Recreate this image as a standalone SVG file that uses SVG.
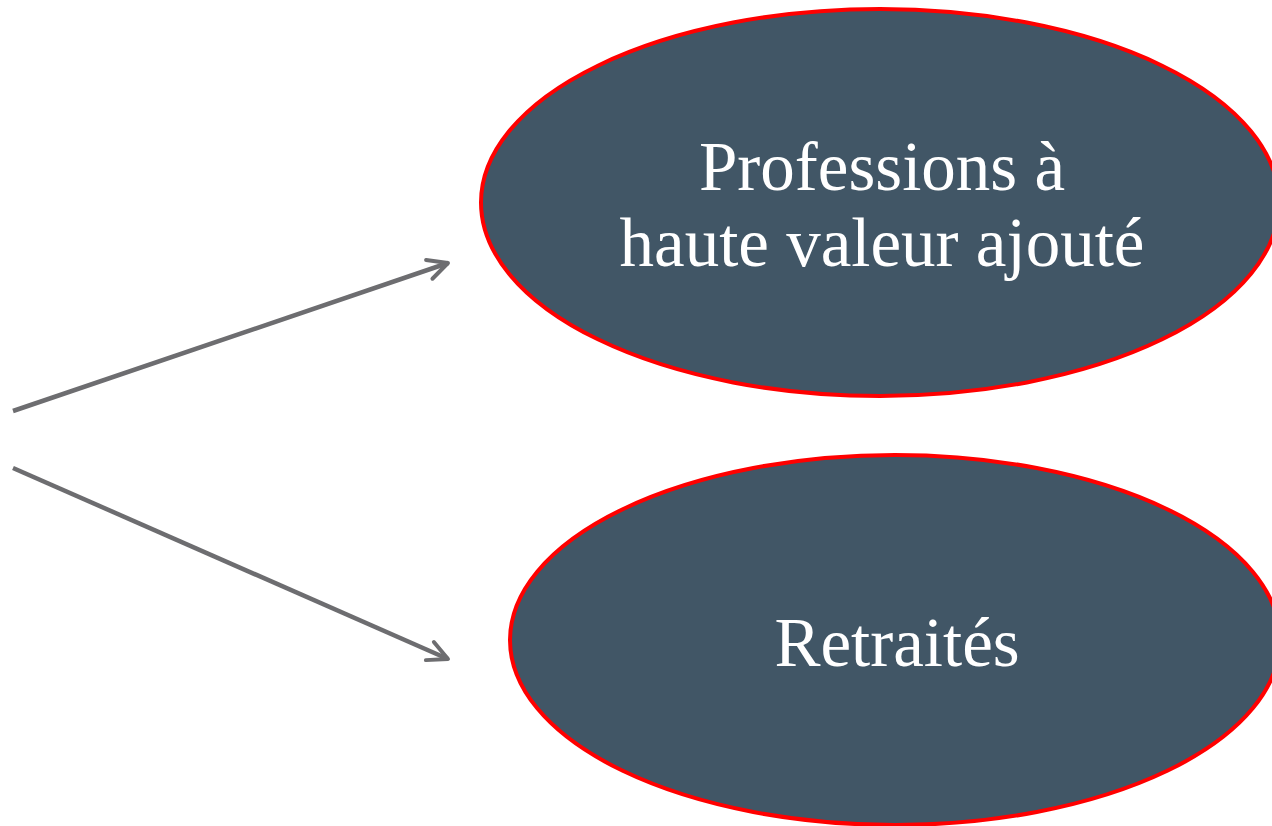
<svg xmlns="http://www.w3.org/2000/svg" width="1272" height="826" viewBox="0 0 1272 826">
<style>
.node ellipse{fill:#415666;stroke:#ff0000;stroke-width:4}
.node text{fill:#ffffff;font-family:"Liberation Serif","DejaVu Serif",serif;font-size:69px;text-anchor:middle}
.conn line{stroke:#6d6d70;stroke-width:4.5;fill:none}
</style>
<defs>
<marker id="ah" viewBox="0 0 10 10" refX="9" refY="5" markerWidth="5.5" markerHeight="5.5" orient="auto" markerUnits="strokeWidth">
<path d="M1,1 L9,5 L1,9" fill="none" stroke="#6d6d70" stroke-width="1.6" stroke-linecap="round" stroke-linejoin="round"/>
</marker>
</defs>
<g id="connectors" class="conn">
<line x1="13" y1="411" x2="448" y2="263" marker-end="url(#ah)"/>
<line x1="13" y1="468" x2="448" y2="659" marker-end="url(#ah)"/>
</g>
<g id="node-professions" class="node">
<ellipse cx="880" cy="202.5" rx="399" ry="193.5"/>
<text x="882" y="190">Professions à</text>
<text x="882" y="266">haute valeur ajouté</text>
</g>
<g id="node-retraites" class="node">
<ellipse cx="895" cy="640" rx="385" ry="185"/>
<text x="897" y="666">Retraités</text>
</g>
</svg>
